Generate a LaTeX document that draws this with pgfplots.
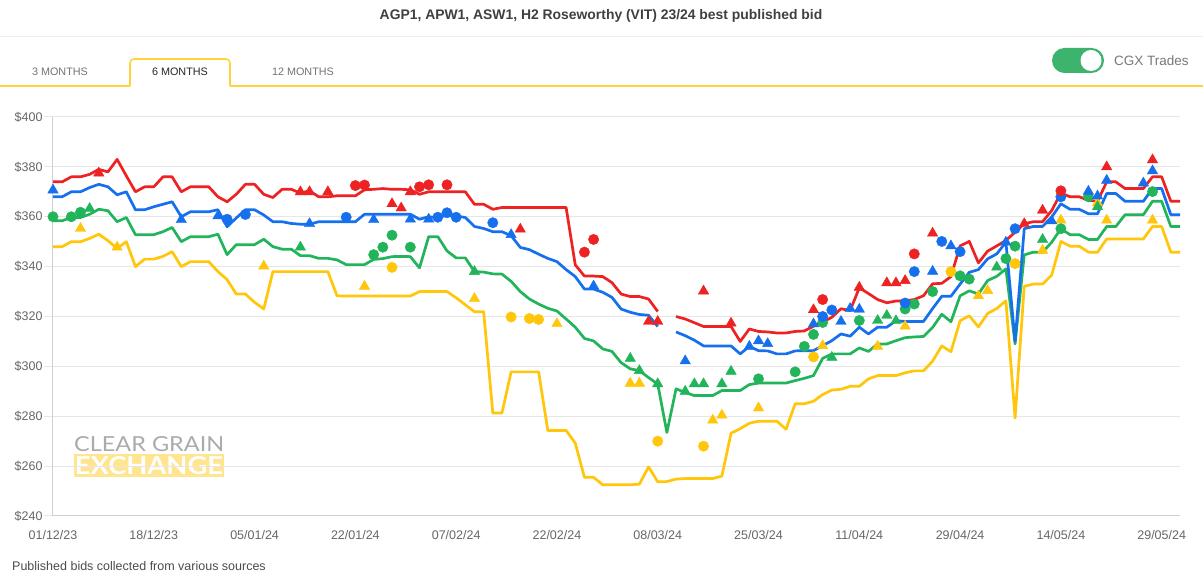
\documentclass[border=0pt]{standalone}
\usepackage{fontspec}
\setmainfont{Liberation Sans}
\newfontfamily\latofont{Lato}
\usepackage{graphicx}
\usepackage{pgfplots}
\usepackage{pgfplotstable}
\pgfplotsset{compat=1.18}

\definecolor{cred}{HTML}{EE2222}
\definecolor{cblue}{HTML}{1670EE}
\definecolor{cgreen}{HTML}{22B45A}
\definecolor{cyellow}{HTML}{FFC60A}
\definecolor{gridgray}{HTML}{E6E6E6}
\definecolor{axisgray}{HTML}{D0D0D0}
\definecolor{labelgray}{HTML}{666666}
\definecolor{tabyellow}{HTML}{FFD43B}
\definecolor{togglegreen}{HTML}{3DB46D}
\definecolor{bandyellow}{HTML}{FFE58F}

% best published bid, by trading day (0 = 01/12/23)
\pgfplotstableread{
x y
0 374
1 374
2 376
3 376
4 377
5 379
6 378
7 383
8 376.4
9 370
10 372
11 372
12 376
13 376
14 370
15 372
16 372
17 372
18 368
19 366
20 369
21 373
22 373
23 369
24 367.7
25 371
26 371
27 369.5
28 370.4
29 368
30 368
31 368.4
32 368.4
33 368.4
34 370.8
35 371
36 371.3
37 371
38 371
39 370.8
40 369
41 370
42 370
43 370
44 370
45 370
46 365
47 365
48 363
49 363.7
50 363.7
51 363.7
52 363.7
53 363.7
54 363.7
55 363.7
56 363.7
57 340.7
58 336.2
59 336.2
60 336
61 333.6
62 329
63 328
64 328
65 327
66 322
67 nan
68 320
69 319
70 317.5
71 316
72 316
73 316
74 316
75 310
76 315
77 314
78 313.8
79 313.4
80 313.4
81 314
82 314.2
83 316.1
84 317.7
85 319.7
86 323.1
87 322.4
88 331.5
89 329.2
90 326.8
91 325.5
92 326.2
93 326.3
94 326.8
95 328.3
96 333.1
97 333.3
98 336
99 348.3
100 350.1
101 341.5
102 346.2
103 348.3
104 350.5
105 353.8
106 357.2
107 358
108 358
109 362.5
110 369.5
111 368
112 368
113 366.6
114 366.2
115 374
116 374
117 371.3
118 371.3
119 371.3
120 376
121 376
122 366.2
123 366.2
}\redline

\pgfplotstableread{
x y
0 368
1 368
2 370
3 370
4 371.7
5 373
6 372
7 368.8
8 370
9 362.8
10 362.8
11 364
12 365
13 366
14 360
15 362
16 362
17 362
18 362.8
19 356
20 359.5
21 362.8
22 362.8
23 360.7
24 358
25 358
26 357.3
27 357
28 357
29 358
30 358
31 358
32 358
33 358
34 361
35 361
36 361
37 361
38 361
39 361
40 359
41 360
42 359.6
43 360.7
44 360.3
45 359.7
46 356.1
47 355.3
48 354
49 354
50 352.4
51 347.7
52 346.8
53 345
54 343.3
55 342
56 338.8
57 336
58 331
59 331
60 329.7
61 327.7
62 323
63 321.7
64 320.8
65 320.5
66 316
67 nan
68 313.8
69 312.3
70 310.5
71 308.2
72 308.2
73 308.2
74 308.2
75 305
76 308
77 306.3
78 306.2
79 305
80 305
81 306.2
82 306.3
83 306.3
84 308.3
85 310.3
86 313
87 312.1
88 315.7
89 313
90 315.7
91 315.7
92 318.3
93 318
94 318
95 318
96 323.2
97 328.1
98 328.1
99 333
100 337.7
101 338.8
102 343.1
103 345.1
104 349.8
105 310
106 355.2
107 356.1
108 356.1
109 359.9
110 365.2
111 363
112 363
113 361.2
114 361.2
115 369.3
116 369.3
117 366.2
118 366.2
119 366.2
120 371.3
121 371.3
122 360.8
123 360.8
}\blueline

\pgfplotstableread{
x y
0 358.4
1 358.4
2 359.7
3 359.7
4 361
5 363
6 362.4
7 358
8 359.7
9 352.8
10 352.8
11 352.8
12 354
13 355.7
14 350
15 352
16 352
17 352
18 353
19 344.8
20 348.8
21 348.8
22 348.8
23 351
24 348
25 347
26 347
27 344.4
28 344.4
29 343.3
30 343.3
31 342.7
32 340.8
33 340.8
34 340.8
35 342.9
36 343.2
37 344
38 344.1
39 344
40 339.5
41 352
42 352
43 346.3
44 343.5
45 343.5
46 338
47 337.8
48 337.1
49 337
50 334.1
51 330
52 327
53 325
54 323.3
55 322.2
56 319
57 315.7
58 311.2
59 310.2
60 307
61 306
62 301.5
63 299
64 298.3
65 295.5
66 292.9
67 273.5
68 291
69 289.5
70 288.3
71 288.3
72 288.3
73 290.3
74 290.3
75 290.3
76 292.7
77 293.3
78 293.3
79 293.3
80 293.3
81 294.3
82 295.2
83 296.3
84 303.2
85 305
86 305
87 305
88 307.4
89 306
90 309
91 309
92 310.3
93 311.5
94 311.8
95 312
96 315.6
97 320.9
98 317.9
99 328.3
100 330.3
101 329
102 334.4
103 336.1
104 339.1
105 309
106 344.7
107 345.8
108 345.8
109 349.8
110 355.2
111 352.8
112 352.8
113 350.9
114 350.9
115 356.1
116 356.1
117 360.8
118 360.8
119 360.8
120 366.2
121 366.2
122 356.1
123 356.1
}\greenline

\pgfplotstableread{
x y
0 348
1 348
2 350
3 350
4 351.3
5 353
6 350.4
7 347.3
8 350
9 340
10 343
11 343
12 344.1
13 346
14 340
15 342
16 342
17 342
18 338
19 334.8
20 329
21 329
22 325.7
23 323
24 338
25 338
26 338
27 338
28 338
29 338
30 338
31 328.3
32 328.2
33 328.2
34 328.2
35 328.2
36 328.2
37 328.2
38 328.2
39 328.2
40 330
41 330
42 330
43 330
44 327.5
45 324.7
46 321.9
47 321.9
48 281.3
49 281.3
50 297.8
51 297.8
52 297.8
53 297.8
54 274.3
55 274.3
56 274.3
57 269.2
58 255.5
59 255.5
60 252.5
61 252.5
62 252.5
63 252.5
64 252.8
65 259.7
66 253.7
67 253.8
68 254.8
69 255
70 255
71 255
72 255
73 256
74 273.2
75 275
76 277.2
77 278
78 278
79 278
80 274.8
81 285
82 285
83 286
84 288.7
85 290.5
86 290.8
87 292
88 292
89 295
90 296.3
91 296.3
92 296.3
93 297.4
94 298.2
95 298.2
96 302.1
97 308.2
98 305.9
99 318.3
100 320.3
101 315.8
102 321.2
103 323.2
104 326.3
105 279.3
106 332.1
107 333
108 333
109 336.6
110 350.1
111 348.2
112 348.2
113 345.8
114 345.8
115 351.1
116 351.1
117 351.1
118 351.1
119 351.1
120 356.1
121 356.1
122 345.8
123 345.8
}\yellowline

% individual bids and CGX trades
\pgfplotstableread{
x y
5 377.5
27 370
28 370
30 370
37 365.2
38 363.5
39 370
51 355
65 318
66 318
71 330.2
74 317.3
83 322.7
88 331.7
91 333.5
92 333.5
93 334.4
96 353.4
106 357.2
108 362.6
115 380
120 382.8
}\redtri
\pgfplotstableread{
x y
33 372.5
34 372.7
40 372
41 372.8
43 372.8
58 345.8
59 350.9
84 326.8
94 345.1
110 370.4
}\redcirc
\pgfplotstableread{
x y
0 370.7
14 358.8
18 360.3
28 357.2
35 358.8
39 359
41 359
50 352.8
59 332.2
69 302.2
76 308
77 310.2
78 309.1
83 317
86 318
87 323.2
88 322.9
96 338.1
98 348.3
104 349.8
109 358.3
113 370.2
114 368.3
115 374.6
119 373.5
120 378.4
}\bluetri
\pgfplotstableread{
x y
19 359
21 360.9
32 359.8
42 359.8
43 361.6
44 359.8
48 357.6
84 320
85 322.6
93 325.4
94 338
97 350.1
99 346
105 355.2
110 368
}\bluecirc
\pgfplotstableread{
x y
4 363.3
27 347.8
46 338
63 303.2
64 298.3
66 293
69 290
70 293
71 293
73 293
74 298
85 303.6
90 318.4
91 320.4
92 318.3
103 339.8
108 350.9
114 364
}\greentri
\pgfplotstableread{
x y
0 360
2 360
3 361.8
35 344.8
36 347.8
37 352.6
39 347.8
77 295
81 297.8
82 308
83 312.8
84 317.6
88 318.4
93 323
94 325
96 330
99 336.3
100 335
104 343.2
105 348.2
110 355.2
113 368
120 370.1
}\greencirc
\pgfplotstableread{
x y
3 355.3
7 347.8
23 340.2
34 332.1
46 327.2
55 317.1
63 293.2
64 293.2
72 278.4
73 280.4
77 283.3
84 308.3
90 308
93 316.1
101 328.3
102 330.4
108 346.5
110 358.6
114 365.5
115 358.6
120 358.6
}\yellowtri
\pgfplotstableread{
x y
37 339.7
50 319.8
52 319.2
53 318.8
66 270
71 268
83 303.8
98 338
105 341.2
}\yellowcirc

\begin{document}
\begin{tikzpicture}[x=1pt,y=1pt]
\path[use as bounding box, fill=white] (0,0) rectangle (1203,585);

% header
\node[font=\fontsize{13.9}{16}\selectfont\bfseries, text=black!75] at (601,569)
  {AGP1, APW1, ASW1, H2 Roseworthy (VIT) 23/24 best published bid};
\draw[black!7, line width=1pt] (0,548) -- (1203,548);
\draw[tabyellow, line width=1.6pt] (0,499) -- (130,499);
\draw[tabyellow, line width=1.6pt] (230,499) -- (1203,499);
\draw[tabyellow, line width=1.6pt, rounded corners=4pt] (130,499) -- (130,526) -- (230,526) -- (230,499);
\node[font=\fontsize{10.8}{13}\selectfont, text=black!55] at (60,513) {3 MONTHS};
\node[font=\fontsize{10.8}{13}\selectfont, text=black!85] at (180,513) {6 MONTHS};
\node[font=\fontsize{10.8}{13}\selectfont, text=black!55] at (303,513) {12 MONTHS};
\fill[togglegreen, rounded corners=12.5pt] (1052,512) rectangle (1104,537);
\fill[white] (1091,524.5) circle (10.5);
\node[anchor=west, inner sep=0, font=\fontsize{13.5}{16}\selectfont, text=black!53] at (1114,524.5) {CGX Trades};

% watermark
\node[anchor=base west, inner sep=0, text=black!33] at (74,133)
  {\resizebox{150pt}{15pt}{\latofont CLEAR GRAIN}};
\fill[bandyellow] (74,108) rectangle (224,131);
\node[anchor=base, inner sep=0, text=white] at (149,110.5)
  {\resizebox{148pt}{18pt}{\latofont\bfseries EXCHANGE}};

% footer
\node[anchor=west, inner sep=0, font=\fontsize{12.5}{15}\selectfont, text=black!70] at (12,19)
  {Published bids collected from various sources};

\begin{axis}[
  scale only axis, width=1127pt, height=399pt,
  at={(53pt,69pt)}, anchor=south west,
  xmin=0, xmax=123, ymin=240, ymax=400,
  axis x line*=bottom, axis y line*=left,
  axis line style={draw=axisgray, line width=1pt, -},
  xtick={0,11,...,121},
  xticklabels={01/12/23,18/12/23,05/01/24,22/01/24,07/02/24,22/02/24,08/03/24,25/03/24,11/04/24,29/04/24,14/05/24,29/05/24},
  ytick={240,260,...,400},
  yticklabel={\$\pgfmathprintnumber{\tick}},
  /pgf/number format/assume math mode=true,
  ymajorgrids, grid style={gridgray, line width=1pt},
  tick align=outside, major tick length=9pt,
  ytick style={gridgray, line width=1pt},
  xtick style={draw=none},
  ticklabel style={font=\fontsize{12.5}{15}\selectfont, text=labelgray},
  yticklabel style={xshift=2pt},
  xticklabel style={yshift=-2pt},
  unbounded coords=jump,
  clip=false,
]
\addplot[cyellow, line width=2.7pt, line join=round] table {\yellowline};
\addplot[cgreen, line width=2.7pt, line join=round] table {\greenline};
\addplot[cblue, line width=2.7pt, line join=round] table {\blueline};
\addplot[cred, line width=2.7pt, line join=round] table {\redline};

\addplot[only marks, mark=triangle*, mark size=6pt, cyellow] table {\yellowtri};
\addplot[only marks, mark=*, mark size=5.2pt, cyellow] table {\yellowcirc};
\addplot[only marks, mark=triangle*, mark size=6pt, cgreen] table {\greentri};
\addplot[only marks, mark=*, mark size=5.2pt, cgreen] table {\greencirc};
\addplot[only marks, mark=triangle*, mark size=6pt, cblue] table {\bluetri};
\addplot[only marks, mark=*, mark size=5.2pt, cblue] table {\bluecirc};
\addplot[only marks, mark=triangle*, mark size=6pt, cred] table {\redtri};
\addplot[only marks, mark=*, mark size=5.2pt, cred] table {\redcirc};
\end{axis}
\end{tikzpicture}
\end{document}
